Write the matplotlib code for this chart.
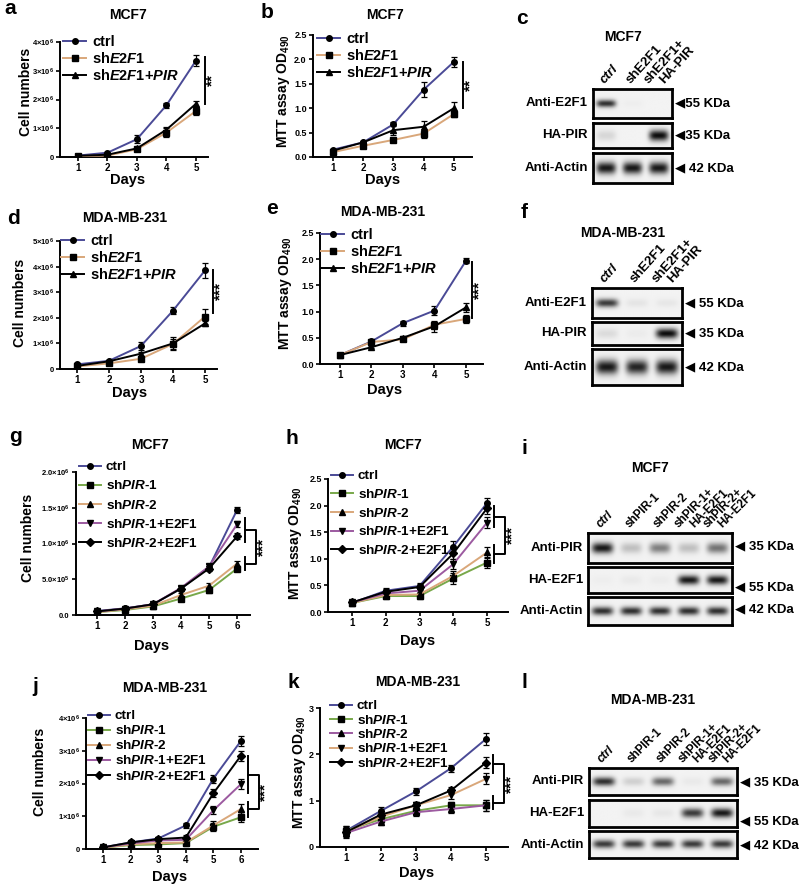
import numpy as np
import matplotlib.pyplot as plt
from matplotlib.lines import Line2D

plt.rcParams['font.family'] = ['Liberation Sans', 'DejaVu Sans']
plt.rcParams['font.weight'] = 'bold'
plt.rcParams['mathtext.fontset'] = 'custom'
plt.rcParams['mathtext.rm'] = 'Liberation Sans:bold'
plt.rcParams['mathtext.bf'] = 'Liberation Sans:bold'
plt.rcParams['mathtext.it'] = 'Liberation Sans:italic:bold'
plt.rcParams['mathtext.default'] = 'rm'

# ---------------- data ----------------
days5 = [1, 2, 3, 4, 5]
days6 = [1, 2, 3, 4, 5, 6]

# a: MCF7 cell numbers
a_ctrl = [0.05e6, 0.15e6, 0.62e6, 1.8e6, 3.35e6]
a_ctrl_err = [0.02e6, 0.03e6, 0.13e6, 0.08e6, 0.2e6]
a_sh = [0.03e6, 0.05e6, 0.27e6, 0.85e6, 1.6e6]
a_sh_err = [0.01e6, 0.02e6, 0.04e6, 0.15e6, 0.15e6]
a_pir = [0.04e6, 0.08e6, 0.3e6, 0.95e6, 1.85e6]
a_pir_err = [0.01e6, 0.02e6, 0.04e6, 0.1e6, 0.1e6]

# b: MCF7 MTT
b_ctrl = [0.15, 0.3, 0.67, 1.38, 1.95]
b_ctrl_err = [0.02, 0.03, 0.04, 0.15, 0.1]
b_sh = [0.1, 0.23, 0.35, 0.48, 0.88]
b_sh_err = [0.02, 0.03, 0.03, 0.1, 0.06]
b_pir = [0.13, 0.3, 0.55, 0.62, 1.0]
b_pir_err = [0.02, 0.03, 0.1, 0.12, 0.12]

# d: MDA-MB-231 cell numbers
d_ctrl = [0.18e6, 0.32e6, 0.9e6, 2.28e6, 3.85e6]
d_ctrl_err = [0.05e6, 0.05e6, 0.15e6, 0.15e6, 0.3e6]
d_sh = [0.1e6, 0.22e6, 0.4e6, 0.98e6, 2.05e6]
d_sh_err = [0.03e6, 0.04e6, 0.08e6, 0.2e6, 0.3e6]
d_pir = [0.12e6, 0.3e6, 0.6e6, 1.0e6, 1.78e6]
d_pir_err = [0.03e6, 0.04e6, 0.08e6, 0.25e6, 0.1e6]

# e: MDA-MB-231 MTT
e_ctrl = [0.17, 0.43, 0.78, 1.02, 1.97]
e_ctrl_err = [0.02, 0.03, 0.05, 0.08, 0.05]
e_sh = [0.17, 0.42, 0.47, 0.75, 0.86]
e_sh_err = [0.02, 0.03, 0.04, 0.06, 0.08]
e_pir = [0.17, 0.32, 0.5, 0.72, 1.08]
e_pir_err = [0.02, 0.02, 0.04, 0.1, 0.08]

# g: MCF7 cell numbers, shPIR
g_ctrl = [0.056e6, 0.093e6, 0.15e6, 0.37e6, 0.67e6, 1.47e6]
g_sh1 = [0.04e6, 0.07e6, 0.12e6, 0.23e6, 0.35e6, 0.65e6]
g_sh2 = [0.04e6, 0.08e6, 0.13e6, 0.28e6, 0.41e6, 0.72e6]
g_sh1e = [0.05e6, 0.09e6, 0.15e6, 0.38e6, 0.68e6, 1.27e6]
g_sh2e = [0.05e6, 0.09e6, 0.15e6, 0.37e6, 0.65e6, 1.1e6]
g_err = [0.01e6, 0.015e6, 0.02e6, 0.03e6, 0.04e6, 0.04e6]

# h: MCF7 MTT, shPIR
h_ctrl = [0.17, 0.4, 0.49, 1.23, 2.05]
h_sh1 = [0.17, 0.3, 0.3, 0.63, 0.93]
h_sh2 = [0.17, 0.32, 0.33, 0.68, 1.12]
h_sh1e = [0.18, 0.35, 0.4, 0.9, 1.68]
h_sh2e = [0.18, 0.38, 0.47, 1.1, 1.95]
h_err = [0.02, 0.05, 0.05, 0.1, 0.1]

# j: MDA-MB-231 cell numbers, shPIR
j_ctrl = [0.05e6, 0.2e6, 0.32e6, 0.72e6, 2.15e6, 3.3e6]
j_sh1 = [0.04e6, 0.12e6, 0.14e6, 0.18e6, 0.68e6, 0.97e6]
j_sh2 = [0.04e6, 0.14e6, 0.18e6, 0.2e6, 0.72e6, 1.22e6]
j_sh1e = [0.05e6, 0.17e6, 0.26e6, 0.28e6, 1.18e6, 1.98e6]
j_sh2e = [0.05e6, 0.2e6, 0.3e6, 0.35e6, 1.7e6, 2.85e6]
j_err = [0.02e6, 0.03e6, 0.04e6, 0.08e6, 0.12e6, 0.15e6]

# k: MDA-MB-231 MTT, shPIR
k_ctrl = [0.35, 0.78, 1.2, 1.7, 2.33]
k_sh1 = [0.35, 0.6, 0.78, 0.9, 0.9]
k_sh2 = [0.3, 0.55, 0.75, 0.82, 0.9]
k_sh1e = [0.33, 0.65, 0.9, 1.12, 1.47]
k_sh2e = [0.32, 0.7, 0.9, 1.22, 1.82]
k_err = [0.1, 0.08, 0.08, 0.08, 0.12]

# tick labels
ticks_4m = [0, 1e6, 2e6, 3e6, 4e6]
labels_4m = ['0', r'1×10$^6$', r'2×10$^6$', r'3×10$^6$', r'4×10$^6$']
ticks_5m = [0, 1e6, 2e6, 3e6, 4e6, 5e6]
labels_5m = ['0', r'1×10$^6$', r'2×10$^6$', r'3×10$^6$', r'4×10$^6$', r'5×10$^6$']
ticks_2m = [0, 0.5e6, 1e6, 1.5e6, 2e6]
labels_2m = ['0.0', r'5.0×10$^5$', r'1.0×10$^6$', r'1.5×10$^6$', r'2.0×10$^6$']
ticks_od = [0, 0.5, 1.0, 1.5, 2.0, 2.5]
labels_od = ['0.0', '0.5', '1.0', '1.5', '2.0', '2.5']
ticks_od3 = [0, 1, 2, 3]
labels_od3 = ['0', '1', '2', '3']

legend_e2f1 = ['ctrl', r'sh$\mathit{E2F1}$', r'sh$\mathit{E2F1}$+$\mathit{PIR}$']
legend_pir = ['ctrl', r'sh$\mathit{PIR}$-1', r'sh$\mathit{PIR}$-2',
              r'sh$\mathit{PIR}$-1+E2F1', r'sh$\mathit{PIR}$-2+E2F1']

# western blots
c_lanes = ['ctrl', 'shE2F1', 'shE2F1+\nHA-PIR']
c_rows = ['Anti-E2F1', 'HA-PIR', 'Anti-Actin']
c_kda = ['55 KDa', '35 KDa', ' 42 KDa']
c_bands = [[0.85, 0.02, 0.0], [0.12, 0.0, 1.0], [0.95, 0.95, 0.95]]

f_kda = [' 55 KDa', ' 35 KDa', ' 42 KDa']
f_bands = [[0.8, 0.06, 0.05], [0.1, 0.03, 1.0], [0.95, 0.9, 0.95]]

i_lanes = ['ctrl', 'shPIR-1', 'shPIR-2', 'shPIR-1+\nHA-E2F1', 'shPIR-2+\nHA-E2F1']
i_rows = ['Anti-PIR', 'HA-E2F1', 'Anti-Actin']
i_kda = [' 35 KDa', ' 55 KDa', ' 42 KDa']
i_bands = [[0.95, 0.22, 0.5, 0.22, 0.55], [0.02, 0.04, 0.03, 0.95, 0.95],
           [0.85, 0.85, 0.85, 0.85, 0.85]]
l_bands = [[0.85, 0.15, 0.6, 0.04, 0.6], [0.0, 0.04, 0.05, 0.8, 0.95],
           [0.8, 0.8, 0.8, 0.8, 0.8]]

C_CTRL = '#4a4a96'
C_TAN = '#d9a77a'
C_GREEN = '#78a84a'
C_PURPLE = '#9c5aa0'
C_BLACK = 'black'

# ---------------- layout helpers ----------------
W, H = 800, 889
fig = plt.figure(figsize=(W / 100, H / 100), dpi=100)


def px_ax(x0, y0, x1, y1):
    return fig.add_axes([x0 / W, 1 - y1 / H, (x1 - x0) / W, (y1 - y0) / H])


def ftext(x, y, s, **kw):
    return fig.text(x / W, 1 - y / H, s, **kw)


def growth(box, xlim, ylim, days, series, yticks, ylabels, ytick_fs=5.5):
    ax = px_ax(*box)
    for vals, errs, col, mk in series:
        ax.errorbar(days, vals, yerr=errs, color=col, lw=1.4, marker=mk, ms=4,
                    mfc='black', mec='black', ecolor='black', elinewidth=0.9,
                    capsize=2.5, capthick=0.9, zorder=3)
    ax.set_xlim(xlim)
    ax.set_ylim(ylim)
    ax.set_xticks(days)
    ax.set_xticklabels([str(d) for d in days], fontsize=7)
    ax.set_yticks(yticks)
    ax.set_yticklabels(ylabels, fontsize=ytick_fs)
    for s in ['top', 'right']:
        ax.spines[s].set_visible(False)
    for s in ['left', 'bottom']:
        ax.spines[s].set_linewidth(1.4)
    ax.tick_params(direction='out', length=3, width=1.2, pad=1.5)
    ax.patch.set_alpha(0)
    return ax


def legend(ax, series, labels, x, y, fs, spacing):
    handles = [Line2D([], [], color=col, marker=mk, ms=4, mfc='black', mec='black', lw=1.4)
               for _, _, col, mk in series]
    ax.legend(handles, labels, loc='upper left', bbox_to_anchor=(x / W, 1 - y / H),
              bbox_transform=fig.transFigure, frameon=False, fontsize=fs,
              handlelength=1.6, handletextpad=0.4, labelspacing=spacing,
              borderpad=0, borderaxespad=0)


def sig_line(ax, x, y0, y1, xs, stars):
    ax.plot([x, x], [y0, y1], color='black', lw=1.4, clip_on=False)
    ax.text(xs, (y0 + y1) / 2, stars, rotation=90, ha='center', va='center',
            fontsize=11, clip_on=False)


def sig_bracket(ax, x0, x1, upper, lower, xs, stars):
    um = sum(upper) / 2
    lm = sum(lower) / 2
    ax.plot([x0, x0], upper, color='black', lw=1.4, clip_on=False)
    ax.plot([x0, x0], lower, color='black', lw=1.4, clip_on=False)
    ax.plot([x0, x1, x1, x0], [um, um, lm, lm], color='black', lw=1.4, clip_on=False)
    ax.text(xs, (um + lm) / 2, stars, rotation=90, ha='center', va='center',
            fontsize=11, clip_on=False)


def draw_band_row(ax, levels, band_h):
    n = len(levels)
    xs = np.linspace(0, n, 400)
    ys = np.linspace(0, 1, 80)
    X, Y = np.meshgrid(xs, ys)
    dens = np.zeros_like(X)
    for i, lv in enumerate(levels):
        dens += lv * np.exp(-((X - (i + 0.5)) / 0.37) ** 4) * np.exp(-((Y - 0.5) / band_h) ** 2)
    img = 0.95 - 0.9 * np.clip(dens, 0, 1)
    ax.imshow(img, cmap='gray', vmin=0, vmax=1, extent=(0, n, 0, 1),
              aspect='auto', origin='lower', interpolation='bilinear')
    ax.set_xticks([])
    ax.set_yticks([])
    for s in ax.spines.values():
        s.set_linewidth(2)


def blot(x0, x1, row_boxes, bands, band_hs, row_names, kda, kda_dy, lanes, lane_rot, lane_fs):
    for (y0, y1), lv, bh, name, kd, dy in zip(row_boxes, bands, band_hs, row_names, kda, kda_dy):
        ax = px_ax(x0, y0, x1, y1)
        draw_band_row(ax, lv, bh)
        ftext(x0 - 5, (y0 + y1) / 2, name, ha='right', va='center', fontsize=9.5)
        ftext(x1 + 3, (y0 + y1) / 2 + dy, '◀' + kd, ha='left', va='center', fontsize=9.5)
    n = len(lanes)
    top = row_boxes[0][0]
    for i, lab in enumerate(lanes):
        cx = x0 + (i + 0.5) * (x1 - x0) / n
        parts = lab.split('\n')
        if len(parts) == 1:
            starts = [cx - 2]
        else:
            starts = [cx - 10, cx + 5]
        for sx, part in zip(starts, parts):
            ftext(sx, top - 5, part, rotation=lane_rot, rotation_mode='anchor',
                  ha='left', va='baseline', fontsize=lane_fs,
                  style='italic' if part == 'ctrl' else 'normal')


# ---------------- panel a ----------------
sa = [(a_ctrl, a_ctrl_err, C_CTRL, 'o'), (a_sh, a_sh_err, C_TAN, 's'), (a_pir, a_pir_err, C_BLACK, '^')]
ax = growth((60, 42, 208, 157), (0.39, 5.41), (0, 4e6), days5, sa, ticks_4m, labels_4m)
legend(ax, sa, legend_e2f1, 63, 35, 10.5, 0.15)
sig_line(ax, 5.31, 1.86e6, 3.49e6, 5.57, '**')

# ---------------- panel b ----------------
sb = [(b_ctrl, b_ctrl_err, C_CTRL, 'o'), (b_sh, b_sh_err, C_TAN, 's'), (b_pir, b_pir_err, C_BLACK, '^')]
ax = growth((313, 35, 472, 157), (0.34, 5.6), (0, 2.5), days5, sb, ticks_od, labels_od, 6.5)
legend(ax, sb, legend_e2f1, 317, 32, 10.5, 0.15)
sig_line(ax, 5.3, 1.0, 1.95, 5.55, '**')

# ---------------- panel d ----------------
sd = [(d_ctrl, d_ctrl_err, C_CTRL, 'o'), (d_sh, d_sh_err, C_TAN, 's'), (d_pir, d_pir_err, C_BLACK, '^')]
ax = growth((60, 241, 217, 369), (0.47, 5.375), (0, 5e6), days5, sd, ticks_5m, labels_5m)
legend(ax, sd, legend_e2f1, 61, 234, 10.5, 0.15)
sig_line(ax, 5.25, 2.2e6, 3.87e6, 5.49, '***')

# ---------------- panel e ----------------
se = [(e_ctrl, e_ctrl_err, C_CTRL, 'o'), (e_sh, e_sh_err, C_TAN, 's'), (e_pir, e_pir_err, C_BLACK, '^')]
ax = growth((320, 233, 483, 364), (0.37, 5.54), (0, 2.5), days5, se, ticks_od, labels_od, 6.5)
legend(ax, se, legend_e2f1, 321, 228, 10.5, 0.15)
sig_line(ax, 5.19, 0.87, 1.95, 5.43, '***')

# ---------------- panel g ----------------
sg = [(g_ctrl, g_err, C_CTRL, 'o'), (g_sh1, g_err, C_GREEN, 's'), (g_sh2, g_err, C_TAN, '^'),
      (g_sh1e, g_err, C_PURPLE, 'v'), (g_sh2e, g_err, C_BLACK, 'D')]
ax = growth((76, 472, 250, 615), (0.25, 6.46), (0, 2e6), days6, sg, ticks_2m, labels_2m)
legend(ax, sg, legend_pir, 79, 461, 9.7, 0.45)
sig_bracket(ax, 6.29, 6.68, (1.02e6, 1.35e6), (0.63e6, 0.81e6), 6.95, '***')

# ---------------- panel h ----------------
sh = [(h_ctrl, h_err, C_CTRL, 'o'), (h_sh1, h_err, C_GREEN, 's'), (h_sh2, h_err, C_TAN, '^'),
      (h_sh1e, h_err, C_PURPLE, 'v'), (h_sh2e, h_err, C_BLACK, 'D')]
ax = growth((328, 479, 508, 612), (0.29, 5.62), (0, 2.5), days5, sh, ticks_od, labels_od, 6.5)
legend(ax, sh, legend_pir, 331, 470, 9.7, 0.42)
sig_bracket(ax, 5.2, 5.53, (1.6, 1.99), (0.92, 1.26), 5.76, '***')

# ---------------- panel j ----------------
sj = [(j_ctrl, j_err, C_CTRL, 'o'), (j_sh1, j_err, C_GREEN, 's'), (j_sh2, j_err, C_TAN, '^'),
      (j_sh1e, j_err, C_PURPLE, 'v'), (j_sh2e, j_err, C_BLACK, 'D')]
ax = growth((86, 718, 258, 849), (0.38, 6.62), (0, 4e6), days6, sj, ticks_4m, labels_4m)
legend(ax, sj, legend_pir, 88, 710, 9.7, 0.15)
sig_bracket(ax, 6.25, 6.65, (1.7e6, 2.83e6), (0.99e6, 1.44e6), 6.89, '***')

# ---------------- panel k ----------------
sk = [(k_ctrl, k_err, C_CTRL, 'o'), (k_sh1, k_err, C_GREEN, 's'), (k_sh2, k_err, C_PURPLE, '^'),
      (k_sh1e, k_err, C_TAN, 'v'), (k_sh2e, k_err, C_BLACK, 'D')]
ax = growth((320, 708, 508, 847), (0.26, 5.63), (0, 3), days5, sk, ticks_od3, labels_od3, 6.5)
legend(ax, sk, legend_pir, 330, 700, 9.7, 0.1)
sig_bracket(ax, 5.2, 5.51, (1.59, 1.99), (0.81, 1.09), 5.73, '***')

# ---------------- axis titles / labels ----------------
for x, y, t in [(128, 15, 'MCF7'), (385, 15, 'MCF7'), (623, 37, 'MCF7'),
                (125, 218, 'MDA-MB-231'), (383, 212, 'MDA-MB-231'), (623, 233, 'MDA-MB-231'),
                (150, 445, 'MCF7'), (403, 445, 'MCF7'), (650, 468, 'MCF7'),
                (165, 688, 'MDA-MB-231'), (418, 682, 'MDA-MB-231'), (653, 700, 'MDA-MB-231')]:
    ftext(x, y, t, ha='center', va='center', fontsize=10)

for x, y in [(128, 180), (383, 180), (130, 393), (385, 390),
             (152, 646), (418, 641), (170, 877), (417, 873)]:
    ftext(x, y, 'Days', ha='center', va='center', fontsize=10.5)

for x, y, t in [(26, 92, 'Cell numbers'), (283, 91, r'MTT assay OD$_{490}$'),
                (20, 303, 'Cell numbers'), (285, 293, r'MTT assay OD$_{490}$'),
                (28, 538, 'Cell numbers'), (295, 543, r'MTT assay OD$_{490}$'),
                (40, 772, 'Cell numbers'), (300, 772, r'MTT assay OD$_{490}$')]:
    ftext(x, y, t, ha='center', va='center', rotation=90, fontsize=10)

for x, y, t in [(10, 9, 'a'), (267, 13, 'b'), (522, 18, 'c'), (13, 218, 'd'),
                (272, 208, 'e'), (524, 213, 'f'), (15, 437, 'g'), (292, 438, 'h'),
                (524, 448, 'i'), (35, 687, 'j'), (293, 682, 'k'), (524, 683, 'l')]:
    ftext(x, y, t, ha='center', va='center', fontsize=15)

# ---------------- western blots ----------------
blot(593, 672, [(89, 118), (123, 148), (153, 183)], c_bands, [0.13, 0.22, 0.2],
     c_rows, c_kda, [0, 0, 0], c_lanes, 48, 9.5)
blot(592, 682, [(288, 318), (322, 345), (349, 385)], f_bands, [0.14, 0.22, 0.2],
     c_rows, f_kda, [0, 0, 0], c_lanes, 48, 9.5)
blot(588, 732, [(533, 563), (567, 593), (597, 625)], i_bands, [0.18, 0.18, 0.15],
     i_rows, i_kda, [-2, 7, -2], i_lanes, 45, 8.4)
blot(589, 737, [(768, 795), (800, 827), (831, 858)], l_bands, [0.16, 0.17, 0.15],
     i_rows, i_kda, [1, 8, 1], i_lanes, 45, 8.4)

fig.savefig('out.png', dpi=100)
